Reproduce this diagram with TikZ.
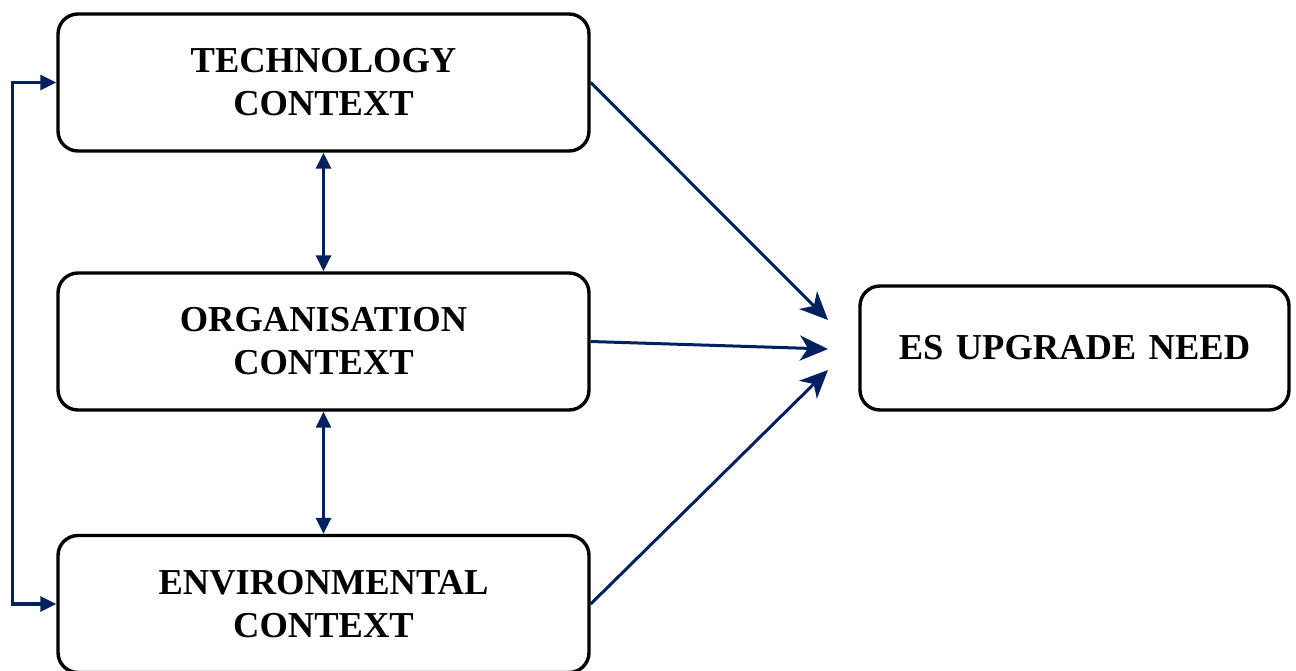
\documentclass[tikz,border=0pt]{standalone}
\usepackage{fontspec}
\setmainfont{Liberation Serif}
\usetikzlibrary{arrows.meta}
\definecolor{navy}{HTML}{002060}
\begin{document}
\begin{tikzpicture}[x=1pt,y=-1pt,
  ctxbox/.style={draw=black, line width=3.4pt, rounded corners=20pt, fill=white,
    minimum width=531pt, minimum height=137pt, align=center,
    font=\fontsize{36.5}{43}\selectfont\bfseries, inner sep=0pt},
  flow/.style={draw=navy, line width=3pt, -{Stealth[length=28pt,width=25pt,inset=8pt]}},
  link/.style={draw=navy, line width=3.2pt, {Triangle[length=16pt,width=15pt]}-{Triangle[length=16pt,width=15pt]}}]
\useasboundingbox (0,0) rectangle (1296,670);

% three context boxes on the left
\node[ctxbox] (tech) at (323.5,82.5) {TECHNOLOGY\\CONTEXT};
\node[ctxbox] (org)  at (323.5,341.5) {ORGANISATION\\CONTEXT};
\node[ctxbox] (env)  at (323.5,604) {ENVIRONMENTAL\\CONTEXT};

% outcome box
\node[ctxbox, minimum width=429pt, minimum height=124pt] (es) at (1074.5,348)
  {ES\hspace{0.34em}UPGRADE\hspace{0.34em}NEED};

% arrow tips stop short of the outcome box
\coordinate (inT) at (828,320);
\coordinate (inO) at (828,349);
\coordinate (inE) at (828,370);

\draw[flow] (tech.east) -- (inT);
\draw[flow] (org.east) -- (inO);
\draw[flow] (env.east) -- (inE);

% links between the contexts
\draw[link] (tech.south) -- (org.north);
\draw[link] (org.south) -- (env.north);
\draw[link] (tech.west) -- ++(-44,0) |- (env.west);
\end{tikzpicture}
\end{document}
